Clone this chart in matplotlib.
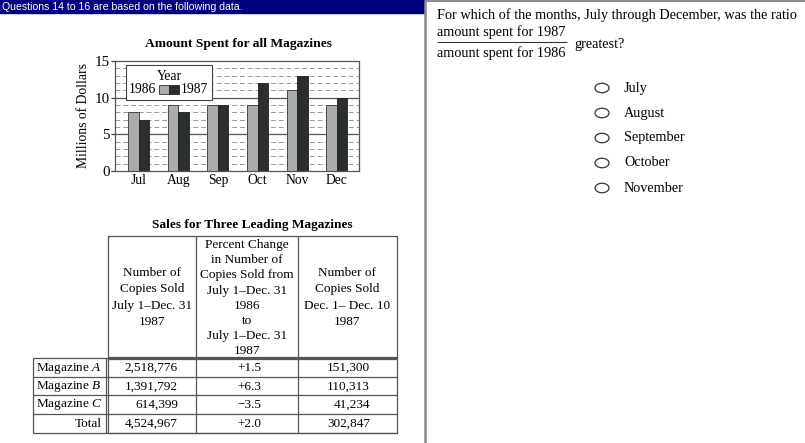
import numpy as np
import matplotlib
matplotlib.use("Agg")
import matplotlib.pyplot as plt
from matplotlib.patches import Rectangle, Ellipse

plt.rcParams['font.family'] = 'Liberation Serif'
plt.rcParams['mathtext.fontset'] = 'custom'
plt.rcParams['mathtext.rm'] = 'Liberation Serif'
plt.rcParams['mathtext.it'] = 'Liberation Serif:italic'

# data
months = ['Jul', 'Aug', 'Sep', 'Oct', 'Nov', 'Dec']
spent_1986 = [8, 9, 9, 9, 11, 9]
spent_1987 = [7, 8, 9, 12, 13, 10]

mag_names = ['Magazine $A$', 'Magazine $B$', 'Magazine $C$', 'Total']
copies_jul_dec = ['2,518,776', '1,391,792', '614,399', '4,524,967']
pct_change = ['+1.5', '+6.3', '\u22123.5', '+2.0']
copies_dec = ['151,300', '110,313', '41,234', '302,847']

choices = ['July', 'August', 'September', 'October', 'November']

W, H = 805, 443
fig = plt.figure(figsize=(W / 100, H / 100), dpi=100)

#%% bar chart
def px_axes(x0, y0, x1, y1):
    return [x0 / W, 1 - y1 / H, (x1 - x0) / W, (y1 - y0) / H]

ax = fig.add_axes(px_axes(115, 61, 359, 171))
x = np.arange(len(months))
bw = 0.265
for y in range(1, 15):
    if y % 5 == 0:
        ax.axhline(y, color='#555555', lw=0.9, zorder=1)
    else:
        ax.axhline(y, color='#999999', lw=0.7, ls=(0, (5, 3)), zorder=1)
ax.bar(x - bw / 2, spent_1986, bw, color='#a9aca9', edgecolor='#333333', lw=0.6, zorder=2)
ax.bar(x + bw / 2, spent_1987, bw, color='#2a2f2c', edgecolor='#222222', lw=0.6, zorder=2)
ax.set_xlim(-0.6, 5.56)
ax.set_ylim(0, 15)
ax.set_yticks([0, 5, 10, 15])
ax.set_xticks(x)
ax.set_xticklabels(months)
ax.tick_params(axis='x', length=0, pad=2, labelsize=9.8)
ax.tick_params(axis='y', length=3, pad=1, labelsize=10.8, color='#333333')
for s in ax.spines.values():
    s.set_color('#555555')
    s.set_linewidth(0.9)
ax.set_ylabel('Millions of Dollars', fontsize=9.8, labelpad=3)

#%% overlay in pixel coords
ov = fig.add_axes([0, 0, 1, 1])
ov.set_xlim(0, W)
ov.set_ylim(H, 0)
ov.axis('off')
ov.patch.set_alpha(0)

def ln(xs, ys, c='#555555', lw=0.9):
    ov.plot(xs, ys, color=c, lw=lw, solid_capstyle='butt')

# header bar
ov.add_patch(Rectangle((0, 0), 424, 13, color='#00007f'))
ov.text(2, 6.5, 'Questions 14 to 16 are based on the following data.', color='white',
        fontsize=7.6, family='Liberation Sans', va='center', ha='left')
ln([425, 425], [0, H], c='#8a8a8a', lw=1.8)
ln([425, W], [0.5, 0.5], c='#8a8a8a', lw=1.5)

# chart title + legend
ov.text(238, 44, 'Amount Spent for all Magazines', fontsize=9.7, weight='bold',
        ha='center', va='center')
ov.add_patch(Rectangle((126, 65), 86, 35, fc='white', ec='#444444', lw=0.8, zorder=3))
ov.text(169, 76, 'Year', fontsize=9.8, ha='center', va='center', zorder=4)
ov.text(143, 89, '1986', fontsize=9.8, ha='center', va='center', zorder=4)
ov.add_patch(Rectangle((159, 85), 10, 9, fc='#a9aca9', ec='#333333', lw=0.6, zorder=4))
ov.add_patch(Rectangle((169, 85), 10, 9, fc='#2a2f2c', ec='#222222', lw=0.6, zorder=4))
ov.text(194, 89, '1987', fontsize=9.8, ha='center', va='center', zorder=4)

#%% table
fs = 9.5
ov.text(252, 225, 'Sales for Three Leading Magazines', fontsize=9.6, weight='bold',
        ha='center', va='center')
tx0, c1, c2, tx1 = 108, 196, 298, 397
ty0, hy, ty1 = 236, 358, 433
rows_y = [358, 377, 395, 414, 433]
ln([tx0, tx1, tx1, tx0, tx0], [ty0, ty0, ty1, ty1, ty0])
ln([c1, c1], [ty0, ty1])
ln([c2, c2], [ty0, ty1])
ln([tx0, tx1], [hy - 1.2, hy - 1.2])
ln([tx0, tx1], [hy + 1.2, hy + 1.2])
ln([33, 33], [hy, ty1])
ln([tx0 - 2.4, tx0 - 2.4], [hy, ty1])
for ry in rows_y:
    ln([33, tx1], [ry, ry])

head1 = ['Number of', 'Copies Sold', 'July 1\u2013Dec. 31', '1987']
head2 = ['Percent Change', 'in Number of', 'Copies Sold from', 'July 1\u2013Dec. 31',
         '1986', 'to', 'July 1\u2013Dec. 31', '1987']
head3 = ['Number of', 'Copies Sold', 'Dec. 1\u2013 Dec. 10', '1987']
for i, t in enumerate(head1):
    ov.text(152, 273 + i * 16.3, t, fontsize=fs, ha='center', va='center')
for i, t in enumerate(head2):
    ov.text(247, 245 + i * 15.2, t, fontsize=fs, ha='center', va='center')
for i, t in enumerate(head3):
    ov.text(347, 273 + i * 16.3, t, fontsize=fs, ha='center', va='center')

for i in range(4):
    cy = (rows_y[i] + rows_y[i + 1]) / 2 + 0.5
    if i < 3:
        ov.text(36, cy, mag_names[i], fontsize=fs, ha='left', va='center')
    else:
        ov.text(102, cy, mag_names[i], fontsize=fs, ha='right', va='center')
    ov.text(178, cy, copies_jul_dec[i], fontsize=fs, ha='right', va='center')
    ov.text(261, cy, pct_change[i], fontsize=fs, ha='right', va='center')
    ov.text(370, cy, copies_dec[i], fontsize=fs, ha='right', va='center')

#%% question
qfs = 10.3
ov.text(437, 15, 'For which of the months, July through December, was the ratio',
        fontsize=qfs, ha='left', va='center')
ov.text(437, 32, 'amount spent for 1987', fontsize=qfs, ha='left', va='center')
ln([437, 567], [42, 42], c='#333333', lw=0.8)
ov.text(437, 53, 'amount spent for 1986', fontsize=qfs, ha='left', va='center')
ov.text(574, 44, 'greatest?', fontsize=qfs, ha='left', va='center')
for i, c in enumerate(choices):
    cy = 88 + i * 25
    ov.add_patch(Ellipse((602, cy), 14, 9.5, fc='none', ec='#333333', lw=0.9))
    ov.text(624, cy, c, fontsize=qfs, ha='left', va='center')

fig.savefig('out.png', dpi=100)
